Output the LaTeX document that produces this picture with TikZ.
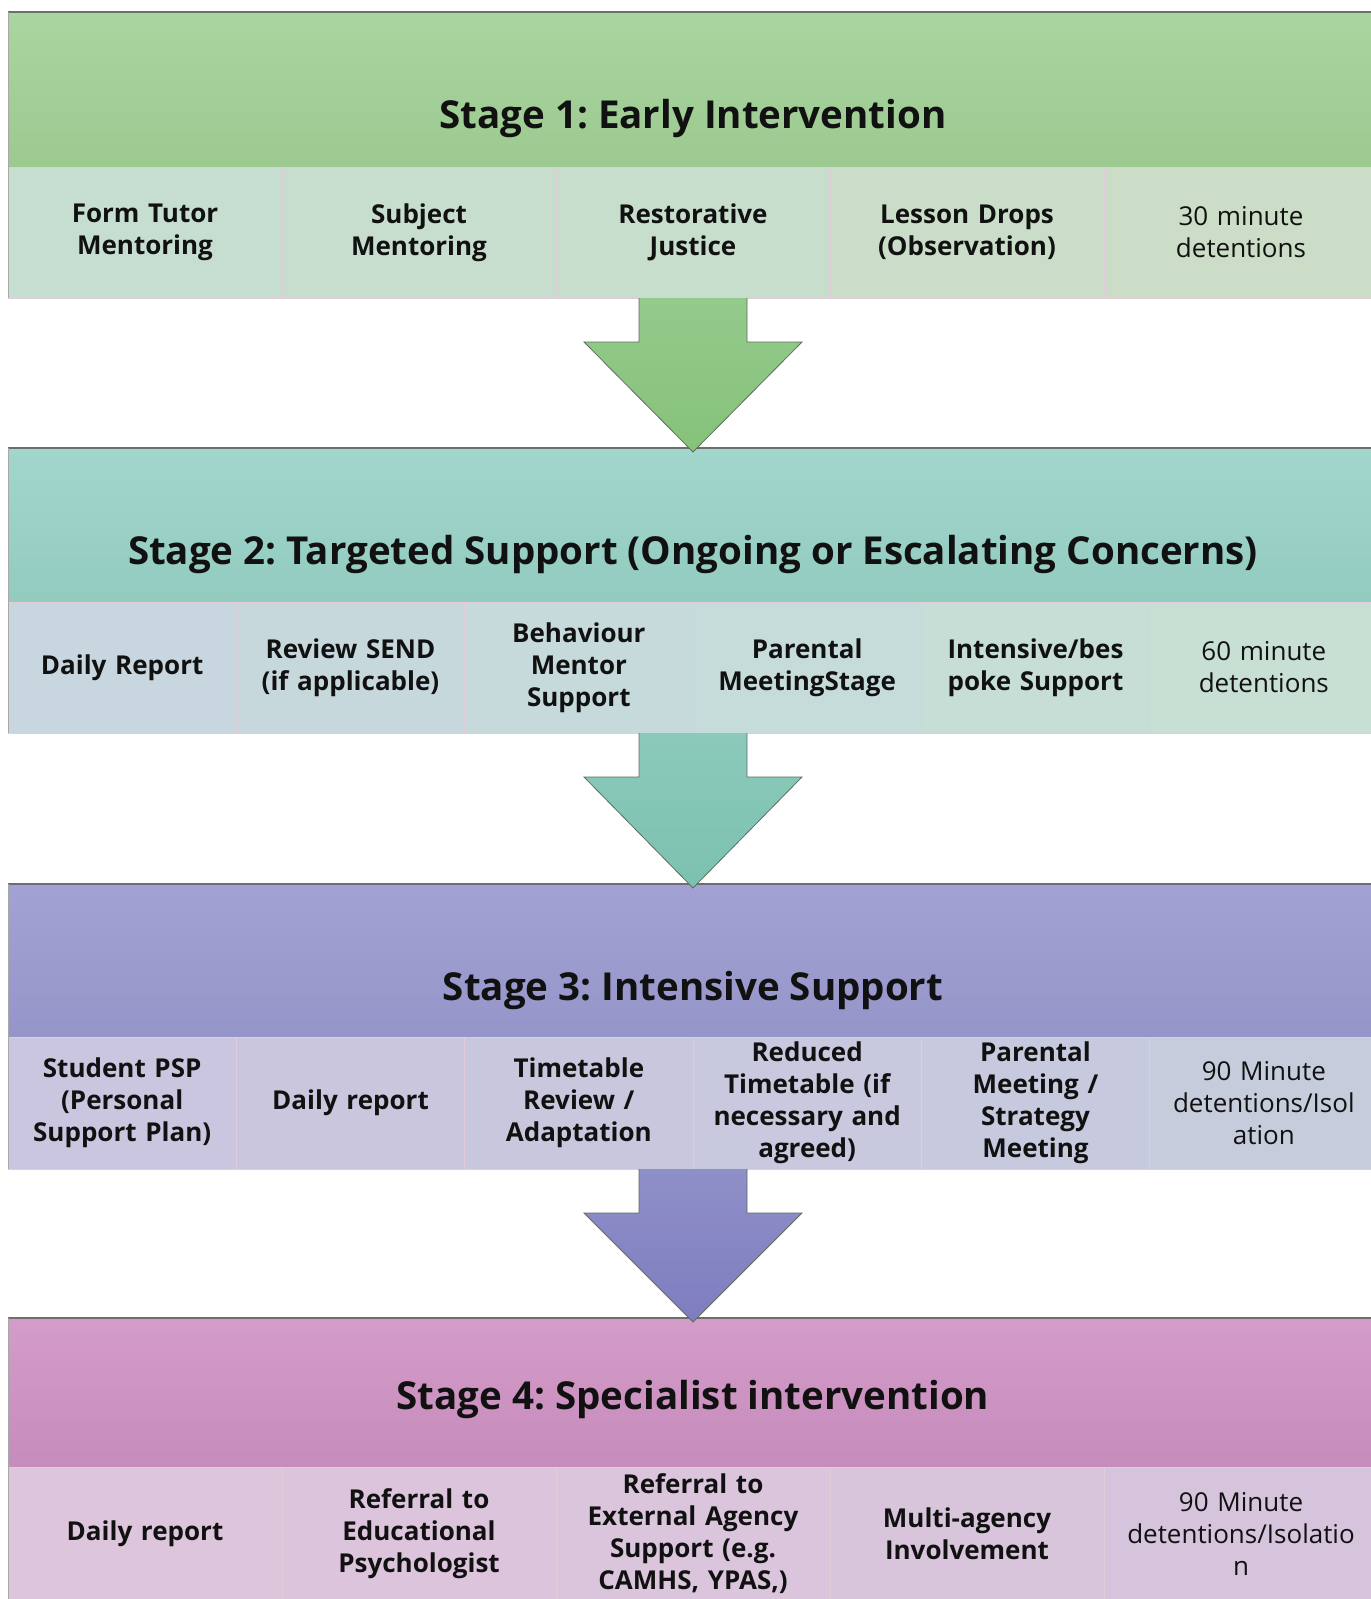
\documentclass[tikz,border=0pt]{standalone}
\usepackage{fontspec}
\setmainfont{Open Sans}
\frenchspacing
\usetikzlibrary{calc}
\definecolor{ink}{HTML}{111111}
\definecolor{edge}{HTML}{6E6E6E}
\definecolor{sep}{HTML}{E2CCDA}
\definecolor{arrowedge}{HTML}{5E6E5E}
% stage 1
\definecolor{hAtop}{HTML}{A9D5A0}\definecolor{hAbot}{HTML}{9CCA90}
\definecolor{aAtop}{HTML}{94CA8C}\definecolor{aAbot}{HTML}{86C27A}
\definecolor{cA1}{HTML}{C6DED0}\definecolor{cA2}{HTML}{C7DECE}\definecolor{cA3}{HTML}{C8DECC}\definecolor{cA4}{HTML}{C9DDC9}\definecolor{cA5}{HTML}{CBDDC6}
% stage 2
\definecolor{hBtop}{HTML}{A2D6CD}\definecolor{hBbot}{HTML}{93CBBF}
\definecolor{aBtop}{HTML}{8BCABB}\definecolor{aBbot}{HTML}{7CC1AF}
\definecolor{cB1}{HTML}{C8D6DF}\definecolor{cB2}{HTML}{C7D8DD}\definecolor{cB3}{HTML}{C6DADC}\definecolor{cB4}{HTML}{C6DCDA}\definecolor{cB5}{HTML}{C7DED7}\definecolor{cB6}{HTML}{C8DFD3}
% stage 3
\definecolor{hCtop}{HTML}{A2A2D4}\definecolor{hCbot}{HTML}{9595C9}
\definecolor{aCtop}{HTML}{8F8FC9}\definecolor{aCbot}{HTML}{7F7DBF}
\definecolor{cC1}{HTML}{CBC6DF}\definecolor{cC2}{HTML}{CAC6DE}\definecolor{cC3}{HTML}{C9C7DE}\definecolor{cC4}{HTML}{C8C9DE}\definecolor{cC5}{HTML}{C7CADE}\definecolor{cC6}{HTML}{C7CCDD}
% stage 4
\definecolor{hDtop}{HTML}{D49CC9}\definecolor{hDbot}{HTML}{C68CBC}
\definecolor{cD1}{HTML}{DDC5DC}\definecolor{cD2}{HTML}{DCC5DC}\definecolor{cD3}{HTML}{DAC5DC}\definecolor{cD4}{HTML}{D8C5DC}\definecolor{cD5}{HTML}{D6C4DC}
\begin{document}
\begin{tikzpicture}[x=1pt,y=-1pt,
  hdr/.style={anchor=north west, inner sep=0pt, outer sep=0pt, minimum width=1370pt, draw=none},
  stitle/.style={font=\fontsize{38.5}{44}\selectfont\bfseries, text=ink, inner sep=0pt},
  cell/.style={anchor=north west, inner sep=0pt, outer sep=0pt, draw=sep, line width=0.8pt, align=center, text=ink, font=\fontsize{26}{32}\selectfont\bfseries},
  cellr/.style={cell, font=\fontsize{26}{32}\selectfont},
  five/.style={minimum width=274pt, text width=266pt},
  six/.style={minimum width=228.33pt, text width=226pt},
  topline/.style={draw=edge, line width=1.4pt},
  leftline/.style={draw=edge!60, line width=1pt},
  blockarrow/.style={draw=arrowedge, line width=0.8pt, line join=miter},
]
\useasboundingbox (0,0) rectangle (1371,1599);
\clip (0,0) rectangle (1371,1599);

% ---------- Stage 1 ----------
\node[hdr, minimum height=155pt, top color=hAtop, bottom color=hAbot] (h1) at (8,12) {};
\node[stitle] (t1) at ($(h1.north)+(0,106)$) {Stage 1: Early Intervention};
\node[cell, five, minimum height=131pt, fill=cA1] (r1c1) at (h1.south west) {Form Tutor\\Mentoring};
\node[cell, five, minimum height=131pt, fill=cA2] (r1c2) at (r1c1.north east) {Subject\\Mentoring};
\node[cell, five, minimum height=131pt, fill=cA3] (r1c3) at (r1c2.north east) {Restorative\\Justice};
\node[cell, five, minimum height=131pt, fill=cA4] (r1c4) at (r1c3.north east) {Lesson Drops\\(Observation)};
\node[cellr, five, minimum height=131pt, fill=cA5] (r1c5) at (r1c4.north east) {30 minute\\detentions};
\draw[topline] (h1.north west) -- (h1.north east);
\draw[leftline] (h1.north west) -- (r1c1.south west);

% ---------- Stage 2 ----------
\node[hdr, minimum height=154pt, top color=hBtop, bottom color=hBbot] (h2) at (8,448) {};
\node[stitle] (t2) at ($(h2.north)+(0,106)$) {Stage 2: Targeted Support (Ongoing or Escalating Concerns)};
\node[cell, six, minimum height=131pt, fill=cB1] (r2c1) at (h2.south west) {Daily Report};
\node[cell, six, minimum height=131pt, fill=cB2] (r2c2) at (r2c1.north east) {Review SEND\\(if applicable)};
\node[cell, six, minimum height=131pt, fill=cB3] (r2c3) at (r2c2.north east) {Behaviour\\Mentor\\Support};
\node[cell, six, minimum height=131pt, fill=cB4] (r2c4) at (r2c3.north east) {Parental\\MeetingStage};
\node[cell, six, minimum height=131pt, fill=cB5] (r2c5) at (r2c4.north east) {Intensive/bes\\poke Support};
\node[cellr, six, minimum height=131pt, fill=cB6] (r2c6) at (r2c5.north east) {60 minute\\detentions};
\draw[topline] (h2.north west) -- (h2.north east);
\draw[leftline] (h2.north west) -- (r2c1.south west);

% ---------- Stage 3 ----------
\node[hdr, minimum height=153pt, top color=hCtop, bottom color=hCbot] (h3) at (8,884) {};
\node[stitle] (t3) at ($(h3.north)+(0,106)$) {Stage 3: Intensive Support};
\node[cell, six, minimum height=132pt, fill=cC1] (r3c1) at (h3.south west) {Student PSP\\(Personal\\Support Plan)};
\node[cell, six, minimum height=132pt, fill=cC2] (r3c2) at (r3c1.north east) {Daily report};
\node[cell, six, minimum height=132pt, fill=cC3] (r3c3) at (r3c2.north east) {Timetable\\Review /\\Adaptation};
\node[cell, six, minimum height=132pt, fill=cC4] (r3c4) at (r3c3.north east) {Reduced\\Timetable (if\\necessary and\\agreed)};
\node[cell, six, minimum height=132pt, fill=cC5] (r3c5) at (r3c4.north east) {Parental\\Meeting /\\Strategy\\Meeting};
\node[cellr, six, minimum height=132pt, fill=cC6] (r3c6) at (r3c5.north east) {90 Minute\\detentions/Isol\\ation};
\draw[topline] (h3.north west) -- (h3.north east);
\draw[leftline] (h3.north west) -- (r3c1.south west);

% ---------- Stage 4 ----------
\node[hdr, minimum height=149pt, top color=hDtop, bottom color=hDbot] (h4) at (8,1318) {};
\node[stitle] (t4) at ($(h4.north)+(0,81)$) {Stage 4: Specialist intervention};
\node[cell, five, minimum height=133pt, fill=cD1] (r4c1) at (h4.south west) {Daily report};
\node[cell, five, minimum height=133pt, fill=cD2] (r4c2) at (r4c1.north east) {Referral to\\Educational\\Psychologist};
\node[cell, five, minimum height=133pt, fill=cD3] (r4c3) at (r4c2.north east) {Referral to\\External Agency\\Support (e.g.\\CAMHS, YPAS,)};
\node[cell, five, minimum height=133pt, fill=cD4] (r4c4) at (r4c3.north east) {Multi-agency\\Involvement};
\node[cellr, five, minimum height=133pt, fill=cD5] (r4c5) at (r4c4.north east) {90 Minute\\detentions/Isolatio\\n};
\draw[topline] (h4.north west) -- (h4.north east);
\draw[leftline] (h4.north west) -- (r4c1.south west);

% ---------- Block arrows ----------
\coordinate (b1) at (h1.south |- r1c1.south);
\coordinate (p1) at ($(h2.north)+(0,4)$);
\shade[top color=aAtop, bottom color=aAbot] ($(b1)+(-54,0)$) -- ($(b1)+(-54,44)$) -- ($(b1)+(-109,44)$) -- (p1) -- ($(b1)+(109,44)$) -- ($(b1)+(54,44)$) -- ($(b1)+(54,0)$) -- cycle;
\draw[blockarrow] ($(b1)+(-54,0)$) -- ($(b1)+(-54,44)$) -- ($(b1)+(-109,44)$) -- (p1) -- ($(b1)+(109,44)$) -- ($(b1)+(54,44)$) -- ($(b1)+(54,0)$);

\coordinate (b2) at (h2.south |- r2c1.south);
\coordinate (p2) at ($(h3.north)+(0,4)$);
\shade[top color=aBtop, bottom color=aBbot] ($(b2)+(-54,0)$) -- ($(b2)+(-54,44)$) -- ($(b2)+(-109,44)$) -- (p2) -- ($(b2)+(109,44)$) -- ($(b2)+(54,44)$) -- ($(b2)+(54,0)$) -- cycle;
\draw[blockarrow] ($(b2)+(-54,0)$) -- ($(b2)+(-54,44)$) -- ($(b2)+(-109,44)$) -- (p2) -- ($(b2)+(109,44)$) -- ($(b2)+(54,44)$) -- ($(b2)+(54,0)$);

\coordinate (b3) at (h3.south |- r3c1.south);
\coordinate (p3) at ($(h4.north)+(0,4)$);
\shade[top color=aCtop, bottom color=aCbot] ($(b3)+(-54,0)$) -- ($(b3)+(-54,44)$) -- ($(b3)+(-109,44)$) -- (p3) -- ($(b3)+(109,44)$) -- ($(b3)+(54,44)$) -- ($(b3)+(54,0)$) -- cycle;
\draw[blockarrow] ($(b3)+(-54,0)$) -- ($(b3)+(-54,44)$) -- ($(b3)+(-109,44)$) -- (p3) -- ($(b3)+(109,44)$) -- ($(b3)+(54,44)$) -- ($(b3)+(54,0)$);
\end{tikzpicture}
\end{document}
